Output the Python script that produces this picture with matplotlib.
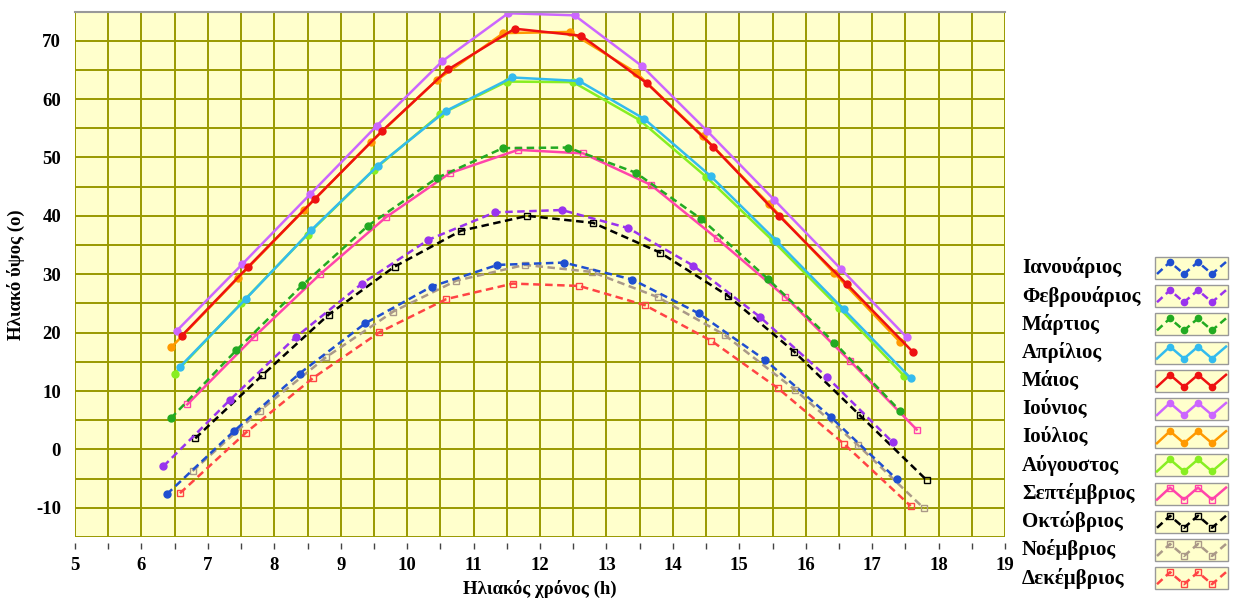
import matplotlib
matplotlib.use("Agg")
import matplotlib.pyplot as plt
from matplotlib.patches import Rectangle
from matplotlib.ticker import MultipleLocator

plt.rcParams["axes.unicode_minus"] = False

# solar altitude per month (hour of solar time, altitude in degrees)
months = ["Ιανουάριος", "Φεβρουάριος", "Μάρτιος", "Απρίλιος", "Μάιος", "Ιούνιος",
          "Ιούλιος", "Αύγουστος", "Σεπτέμβριος", "Οκτώβριος", "Νοέμβριος", "Δεκέμβριος"]

jan_h = [6.38, 7.39, 8.38, 9.37, 10.37, 11.36, 12.36, 13.39, 14.39, 15.39, 16.38, 17.37]
jan_alt = [-7.7, 3.1, 13.0, 21.6, 27.9, 31.6, 32.0, 29.1, 23.3, 15.3, 5.5, -5.1]
feb_h = [6.33, 7.33, 8.32, 9.32, 10.32, 11.32, 12.33, 13.33, 14.31, 15.31, 16.32, 17.31]
feb_alt = [-2.9, 8.45, 19.2, 28.4, 35.9, 40.6, 41.0, 37.9, 31.45, 22.7, 12.4, 1.2]
mar_h = [6.44, 7.43, 8.42, 9.41, 10.45, 11.44, 12.42, 13.44, 14.43, 15.43, 16.43, 17.42]
mar_alt = [5.3, 17.0, 28.1, 38.3, 46.5, 51.6, 51.7, 47.4, 39.45, 29.2, 18.3, 6.6]
apr_h = [6.58, 7.57, 8.56, 9.56, 10.58, 11.58, 12.59, 13.57, 14.57, 15.56, 16.57, 17.58]
apr_alt = [14.15, 25.75, 37.6, 48.6, 57.95, 63.7, 63.1, 56.6, 46.8, 35.7, 24.0, 12.2]
may_h = [6.61, 7.61, 8.61, 9.62, 10.62, 11.62, 12.62, 13.61, 14.61, 15.6, 16.62, 17.62]
may_alt = [19.5, 31.3, 42.9, 54.5, 65.1, 72.05, 70.85, 62.7, 51.8, 40.0, 28.3, 16.6]
jun_h = [6.53, 7.52, 8.54, 9.54, 10.53, 11.52, 12.52, 13.53, 14.52, 15.53, 16.53, 17.52]
jun_alt = [20.3, 31.75, 43.7, 55.4, 66.5, 74.7, 74.35, 65.7, 54.5, 42.7, 30.9, 19.2]
jul_h = [6.45, 7.45, 8.45, 9.45, 10.45, 11.45, 12.45, 13.45, 14.45, 15.45, 16.43, 17.42]
jul_alt = [17.5, 29.3, 41.0, 52.6, 63.3, 71.3, 71.5, 64.5, 53.7, 42.0, 30.2, 18.4]
aug_h = [6.5, 7.5, 8.5, 9.5, 10.5, 11.5, 12.5, 13.5, 14.5, 15.5, 16.5, 17.48]
aug_alt = [13.0, 25.0, 36.8, 47.9, 57.4, 63.0, 62.9, 56.4, 46.7, 35.8, 24.3, 12.6]
sep_h = [6.69, 7.69, 8.69, 9.68, 10.64, 11.67, 12.65, 13.67, 14.66, 15.69, 16.67, 17.67]
sep_alt = [7.7, 19.2, 30.0, 39.75, 47.3, 51.3, 50.7, 45.3, 36.15, 26.15, 15.1, 3.4]
oct_h = [6.81, 7.82, 8.82, 9.81, 10.81, 11.81, 12.8, 13.81, 14.83, 15.83, 16.81, 17.82]
oct_alt = [1.9, 12.7, 23.1, 31.3, 37.45, 40.0, 38.8, 33.7, 26.3, 16.7, 5.9, -5.25]
nov_h = [6.77, 7.78, 8.78, 9.79, 10.74, 11.77, 12.78, 13.77, 14.78, 15.84, 16.78, 17.78]
nov_alt = [-3.7, 6.6, 15.8, 23.6, 28.9, 31.6, 30.4, 26.1, 19.6, 10.2, 0.8, -10.1]
dec_h = [6.58, 7.57, 8.58, 9.58, 10.59, 11.59, 12.59, 13.58, 14.58, 15.58, 16.58, 17.58]
dec_alt = [-7.5, 2.85, 12.2, 20.05, 25.75, 28.4, 28.0, 24.7, 18.6, 10.5, 0.9, -9.7]

hours = [jan_h, feb_h, mar_h, apr_h, may_h, jun_h, jul_h, aug_h, sep_h, oct_h, nov_h, dec_h]
alts = [jan_alt, feb_alt, mar_alt, apr_alt, may_alt, jun_alt, jul_alt, aug_alt,
        sep_alt, oct_alt, nov_alt, dec_alt]

colors = ["#1f4fd0", "#9933ee", "#22aa22", "#33bbee", "#ee1111", "#cc66ff",
          "#ff9900", "#88ee22", "#ff44aa", "#000000", "#aa9988", "#ff4444"]
dashed = [True, True, True, False, False, False, False, False, False, True, True, True]
square = [False] * 8 + [True] * 4

serif = {"family": "Liberation Serif", "weight": "bold", "size": 13.5}
bg = "#ffffcc"
grid_col = "#999900"


def style(i):
    kw = dict(color=colors[i], lw=1.8)
    if square[i]:
        kw.update(marker="s", markersize=5, markerfacecolor="none", markeredgewidth=1.0)
    else:
        kw.update(marker="o", markersize=5)
    return kw


fig = plt.figure(figsize=(12.33, 6.03), dpi=100)
ax = fig.add_axes([75 / 1233, 1 - 537 / 603, 930 / 1233, 525.5 / 603])
ax.set_facecolor(bg)

# December first so January ends on top, May over July, April over August
for i in reversed(range(12)):
    line, = ax.plot(hours[i], alts[i], **style(i))
    if dashed[i]:
        line.set_dashes((3, 1.8))

ax.set_xlim(5, 19)
ax.set_ylim(-15, 75)
ax.xaxis.set_major_locator(MultipleLocator(1))
ax.xaxis.set_minor_locator(MultipleLocator(0.5))
ax.yaxis.set_minor_locator(MultipleLocator(5))
ax.set_yticks(range(-10, 71, 10))
ax.grid(True, which="both", color=grid_col, lw=1.4)
ax.set_axisbelow(True)

for s in ["left", "right", "bottom"]:
    ax.spines[s].set_visible(False)
ax.spines["top"].set_color("#999999")
ax.spines["top"].set_linewidth(1.5)
ax.spines["bottom"].set_position(("outward", 4))

ax.tick_params(axis="x", which="both", direction="out", length=4.5, width=1,
               color="#444444", pad=6)
ax.tick_params(axis="y", which="both", length=0, pad=10)
for lab in ax.get_xticklabels() + ax.get_yticklabels():
    lab.set_fontproperties(serif)

ax.set_xlabel("Ηλιακός χρόνος (h)", fontdict=serif, labelpad=4)
ax.set_ylabel("Ηλιακό ύψος (ο)", fontdict=serif, labelpad=8)

# legend on the right: text left, zigzag sample in a yellow box right
lax = fig.add_axes([0, 0, 1, 1])
lax.set_xlim(0, 1233)
lax.set_ylim(603, 0)
lax.axis("off")
leg_font = dict(serif, size=15)
for i, name in enumerate(months):
    yc = 268 + i * 28.2
    lax.text(1022, yc, name, ha="left", va="center", fontdict=leg_font)
    lax.add_patch(Rectangle((1155, yc - 11), 73, 22, facecolor=bg,
                            edgecolor="#999999", lw=1.0))
    zx = [1157, 1170, 1184, 1198, 1212, 1226]
    zy = [yc + 6, yc - 6, yc + 6, yc - 6, yc + 6, yc - 6]
    kw = style(i)
    kw["markersize"] = 4.5
    z, = lax.plot(zx, zy, markevery=[1, 2, 3, 4], **kw)
    if dashed[i]:
        z.set_dashes((3, 1.8))

fig.savefig("out.png", dpi=100, facecolor="white")
